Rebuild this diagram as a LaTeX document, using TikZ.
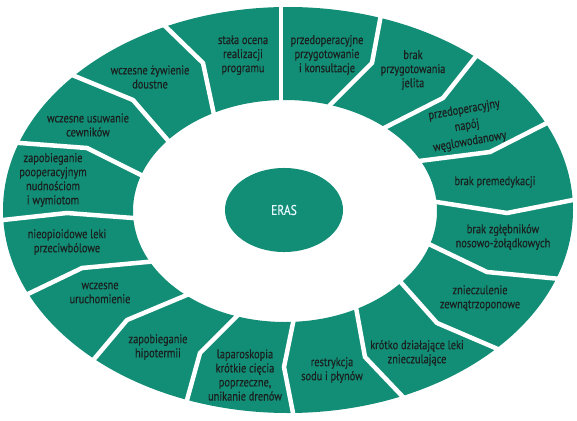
\documentclass[tikz,border=0pt]{standalone}
\usepackage{fontspec}
\setmainfont{PT Sans}[FakeStretch=0.82,FakeBold=0.4]
\usepackage{xcolor}
\usepackage{tikz}
\usetikzlibrary{shapes.geometric}
\definecolor{erasgreen}{RGB}{18,142,119}
\definecolor{erastext}{RGB}{26,32,30}

\begin{document}
\begin{tikzpicture}[x=0.025cm,y=-0.025cm,
  lbl/.style={align=center,text=erastext,font=\fontsize{9}{10}\selectfont},
  divider/.style={draw=white,line width=3.2pt,shorten <=-6pt,shorten >=-6pt}]
\useasboundingbox (0,0) rectangle (577,420);
% ring
\fill[erasgreen,even odd rule] (288,210) ellipse [x radius=285, y radius=203]
  (285,211) ellipse [x radius=152, y radius=111];
% dividers: outer end / bend / inner end
\foreach \ox/\oy/\kx/\ky/\ix/\iy in {281/8/281/55/281/100, 167/28/203/63/213/110,
    77/77/133/100/165/137, 20/143/87/148/137/173, 3/220/67/213/133/218,
    30/293/82/268/147/262, 95/358/127/320/182/297, 187/400/200/353/235/318,
    293/413/284/367/293/323, 403/397/365/357/357/313, 493/347/437/323/405/287,
    550/278/487/272/435/247, 573/200/507/213/443/203, 543/125/490/152/427/160,
    473/60/443/98/390/125, 380/20/372/63/335/100}
  \draw[divider] (\ox,\oy) -- (\kx,\ky) -- (\ix,\iy);
% centre
\node[ellipse,fill=erasgreen,inner sep=0pt,minimum width=2.95cm,minimum height=2.1cm,
  text=white!90!cyan,font=\fontsize{10}{12}\selectfont] (eras) at (284,210) {ERAS};
% segment labels
\node[lbl] (konsult) at (327,55) {przedoperacyjne\\przygotowanie\\i konsultacje};
\node[lbl] (jelito) at (413,70) {brak\\przygotowania\\jelita};
\node[lbl,rotate=10,font=\fontsize{9}{11.5}\selectfont] (napoj) at (467,126) {przedoperacyjny\\napój\\węglowodanowy};
\node[lbl] (premed) at (495,182) {brak premedykacji};
\node[lbl] (zglebnik) at (503,237) {brak zgłębników\\nosowo-żołądkowych};
\node[lbl] (zewnatrz) at (480,298) {znieczulenie\\zewnątrzoponowe};
\node[lbl] (krotko) at (417,353) {krótko działające leki\\znieczulające};
\node[lbl] (sod) at (332,370) {restrykcja\\sodu i płynów};
\node[lbl] (laparo) at (245,375) {laparoskopia\\krótkie cięcia\\poprzeczne,\\unikanie drenów};
\node[lbl] (hipoterm) at (158,347) {zapobieganie\\hipotermii};
\node[lbl] (uruch) at (100,293) {wczesne\\uruchomienie};
\node[lbl] (nieopio) at (67,242) {nieopioidowe leki\\przeciwbólowe};
\node[lbl] (nudnosci) at (53,180) {zapobieganie\\pooperacyjnym\\nudnościom\\i wymiotom};
\node[lbl] (cewnik) at (88,125) {wczesne usuwanie\\cewników};
\node[lbl] (zywienie) at (150,77) {wczesne żywienie\\doustne};
\node[lbl] (ocena) at (243,55) {stała ocena\\realizacji\\programu};
\end{tikzpicture}
\end{document}
